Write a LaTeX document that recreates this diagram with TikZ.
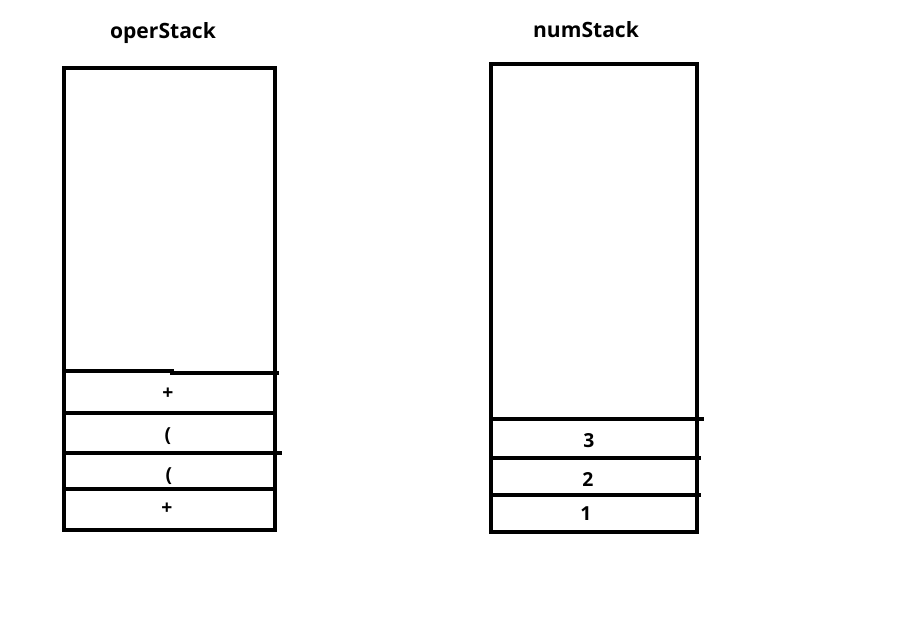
\documentclass[tikz,border=0pt]{standalone}
\usepackage{fontspec}
\setmainfont{Open Sans}
\begin{document}
\begin{tikzpicture}[x=0.75pt,y=-0.75pt,
  stackline/.style={line width=3pt,line cap=rect},
  title/.style={font=\bfseries\fontsize{15.8}{18}\selectfont,inner sep=0pt},
  numtxt/.style={font=\bfseries\fontsize{14.5}{16}\selectfont,inner sep=0pt},
  optxt/.style={font=\bfseries\fontsize{14.5}{16}\selectfont,inner sep=0pt}]
\useasboundingbox (0,0) rectangle (902,629);
% titles
\node[title] (t1) at (163,33) {operStack};
\node[title] (t2) at (586,30) {numStack};
% operStack
\draw[stackline] (64,68) rectangle (275,530);
\draw[stackline] (64,371) -- (172,371);
\draw[stackline] (172,373) -- (277,373);
\draw[stackline] (64,413) -- (275,413);
\draw[stackline] (64,453) -- (280,453);
\draw[stackline] (64,489) -- (275,489);
\node[optxt] (o1) at (168,394) {+};
\node[optxt] (o2) at (168,436) {(};
\node[optxt] (o3) at (169,476) {(};
\node[optxt] (o4) at (167,509) {+};
% numStack
\draw[stackline] (491,64) rectangle (697,532);
\draw[stackline] (491,419) -- (702,419);
\draw[stackline] (491,458) -- (699,458);
\draw[stackline] (491,495) -- (699,495);
\node[numtxt] (n3) at (589,441) {3};
\node[numtxt] (n2) at (588,479) {2};
\node[numtxt] (n1) at (586,514) {1};
\end{tikzpicture}
\end{document}
